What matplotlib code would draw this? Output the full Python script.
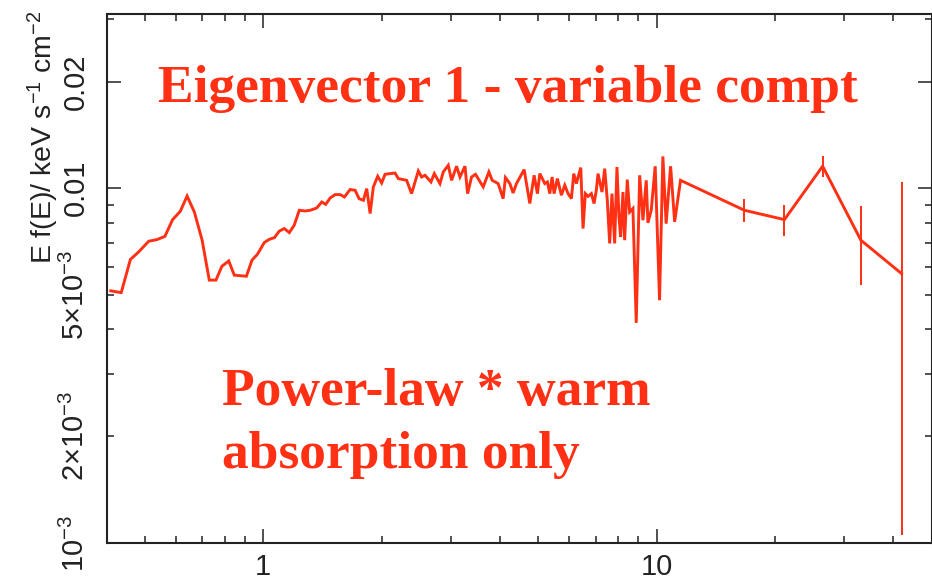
import matplotlib
matplotlib.use('Agg')
import matplotlib.pyplot as plt
from matplotlib.ticker import FixedLocator, FuncFormatter, NullFormatter

# ---- data ----
energy_keV = [0.410, 0.436, 0.460, 0.483, 0.512, 0.538, 0.563, 0.589, 0.616, 0.641,
              0.669, 0.700, 0.730, 0.759, 0.786, 0.818, 0.845, 0.907, 0.937, 0.968,
              1.007, 1.037, 1.069, 1.099, 1.132, 1.166, 1.200, 1.236, 1.280, 1.318,
              1.369, 1.410, 1.443, 1.481, 1.525, 1.570, 1.610, 1.664, 1.714, 1.754,
              1.799, 1.834, 1.871, 1.907, 1.956, 2.002, 2.042, 2.102, 2.165, 2.207,
              2.317, 2.385, 2.481, 2.529, 2.580, 2.672, 2.724, 2.816, 2.871, 2.956,
              3.014, 3.103, 3.166, 3.260, 3.310, 3.388, 3.467, 3.627, 3.750, 3.823,
              3.959, 4.076, 4.131, 4.239, 4.321, 4.406, 4.609, 4.764, 4.886, 4.981,
              5.051, 5.201, 5.281, 5.355, 5.428, 5.492, 5.598, 5.731, 5.846, 5.960,
              6.077, 6.162, 6.256, 6.419, 6.506, 6.594, 6.699, 6.830, 6.939, 7.031,
              7.101, 7.269, 7.385, 7.498, 7.603, 7.705, 7.828, 7.934, 8.028, 8.108,
              8.217, 8.300, 8.427, 8.546, 8.712, 8.882, 9.061, 9.237, 9.417, 9.511,
              9.696, 9.924, 10.18, 10.38, 10.58, 10.86, 11.12, 11.51,
              16.73, 21.14, 26.44, 33.07, 41.95]
flux = [0.00514, 0.00508, 0.00630, 0.00662, 0.00709, 0.00717, 0.00732, 0.00816, 0.00861, 0.00951,
        0.00857, 0.00714, 0.00551, 0.00551, 0.00603, 0.00624, 0.00569, 0.00565, 0.00627, 0.00652,
        0.00703, 0.00718, 0.00726, 0.00757, 0.00770, 0.00750, 0.00787, 0.00867, 0.00863, 0.00867,
        0.00880, 0.00915, 0.00901, 0.00939, 0.00960, 0.00960, 0.00945, 0.00992, 0.00987, 0.00935,
        0.00925, 0.00998, 0.00849, 0.01009, 0.01081, 0.01035, 0.01095, 0.01100, 0.01104, 0.01065,
        0.01053, 0.00966, 0.01119, 0.01076, 0.01088, 0.01042, 0.01100, 0.01031, 0.01112, 0.01161,
        0.01053, 0.01154, 0.01076, 0.01154, 0.00966, 0.01076, 0.01095, 0.01009, 0.01112, 0.01053,
        0.01031, 0.00935, 0.01072, 0.01031, 0.00970, 0.01031, 0.01129, 0.00906, 0.01088, 0.00966,
        0.01100, 0.01031, 0.01042, 0.00966, 0.01076, 0.00966, 0.01065, 0.00956, 0.01020, 0.00966,
        0.00935, 0.01100, 0.01031, 0.01144, 0.00770, 0.00966, 0.00949, 0.00966, 0.00906, 0.00987,
        0.01100, 0.00976, 0.01136, 0.00925, 0.00699, 0.00966, 0.00699, 0.01148, 0.00830, 0.00729,
        0.00976, 0.00714, 0.01058, 0.00857, 0.00877, 0.004175, 0.01088, 0.00813, 0.01053, 0.00799,
        0.00867, 0.01154, 0.004836, 0.01230, 0.00795, 0.01154, 0.00804, 0.01053,
        0.00867, 0.00816, 0.01154, 0.00714, 0.00575]
# vertical error bars of the rebinned high-energy points
err_energy = [16.73, 21.14, 26.44, 33.07, 41.95]
err_flux = [0.00867, 0.00816, 0.01154, 0.00714, 0.00575]
err_sigma = [0.00066, 0.00082, 0.00076, 0.00180, 0.00470]

x_major = [1, 10]
x_major_labels = ['1', '10']
x_minor = [0.5, 0.6, 0.7, 0.8, 0.9, 2, 3, 4, 5, 6, 7, 8, 9, 20, 30, 40]
y_major = [0.001, 0.01, 0.02]
y_minor = [0.002, 0.003, 0.004, 0.005, 0.006, 0.007, 0.008, 0.009, 0.03]
y_labels = {0.001: r'$\mathregular{10^{-3}}$', 0.002: r'$\mathregular{2{\times}10^{-3}}$',
            0.005: r'$\mathregular{5{\times}10^{-3}}$', 0.01: '0.01', 0.02: '0.02'}

title_text = 'Eigenvector 1 - variable compt'
note_lines = ['Power-law * warm', 'absorption only']
ylabel_text = r'E f(E)/ keV s$^{\mathregular{-1}}$ cm$^{\mathregular{-2}}$'

RED = '#ff3014'
INK = '#222222'

plt.rcParams['font.family'] = ['Liberation Sans', 'DejaVu Sans']
plt.rcParams['mathtext.fontset'] = 'custom'
plt.rcParams['mathtext.rm'] = 'Liberation Sans'
plt.rcParams['mathtext.it'] = 'Liberation Sans:italic'

W, H = 932, 579
fig = plt.figure(figsize=(W / 100, H / 100), dpi=100)
ax = fig.add_axes([106.5 / W, 36 / H, 825 / W, 529 / H])

ax.plot(energy_keV, flux, color=RED, lw=2.1, solid_joinstyle='miter')
ax.errorbar(err_energy, err_flux, yerr=err_sigma, fmt='none', ecolor=RED,
            elinewidth=1.4, capsize=0)

ax.set_xscale('log')
ax.set_yscale('log')
ax.set_xlim(0.4, 50)
ax.set_ylim(0.001, 0.031)

ax.xaxis.set_major_locator(FixedLocator(x_major))
ax.xaxis.set_major_formatter(FuncFormatter(lambda v, p: x_major_labels[x_major.index(round(v))] if round(v) in x_major else ''))
ax.xaxis.set_minor_locator(FixedLocator(x_minor))
ax.xaxis.set_minor_formatter(NullFormatter())

def ylab(v, p):
    for k, s in y_labels.items():
        if abs(v - k) / k < 1e-6:
            return s
    return ''

ax.yaxis.set_major_locator(FixedLocator(y_major))
ax.yaxis.set_major_formatter(FuncFormatter(ylab))
ax.yaxis.set_minor_locator(FixedLocator(y_minor))
ax.yaxis.set_minor_formatter(FuncFormatter(ylab))

for s in ax.spines.values():
    s.set_linewidth(1.5)
    s.set_color(INK)

ax.tick_params(which='both', direction='in', top=True, right=True, color=INK,
               labelcolor=INK, width=1.1, labelsize=21)
ax.tick_params(which='major', length=10)
ax.tick_params(which='minor', length=5)
ax.tick_params(axis='y', which='both', pad=12, labelrotation=90)
ax.tick_params(axis='x', which='both', pad=7)
for lab in ax.get_yticklabels(which='both'):
    lab.set_va('center')

fig.text(43 / W, 1 - 137 / H, ylabel_text, rotation=90, ha='center', va='center',
         fontsize=20.5, color=INK)

serif = ['Liberation Serif', 'DejaVu Serif']
fig.text(158 / W, 1 - 102 / H, title_text, family=serif, weight='bold', fontsize=38.5,
         color=RED, ha='left', va='baseline')
fig.text(222 / W, 1 - 405 / H, note_lines[0], family=serif, weight='bold', fontsize=38.5,
         color=RED, ha='left', va='baseline')
fig.text(222 / W, 1 - 468 / H, note_lines[1], family=serif, weight='bold', fontsize=38.5,
         color=RED, ha='left', va='baseline')

fig.savefig('out.png', dpi=100)
